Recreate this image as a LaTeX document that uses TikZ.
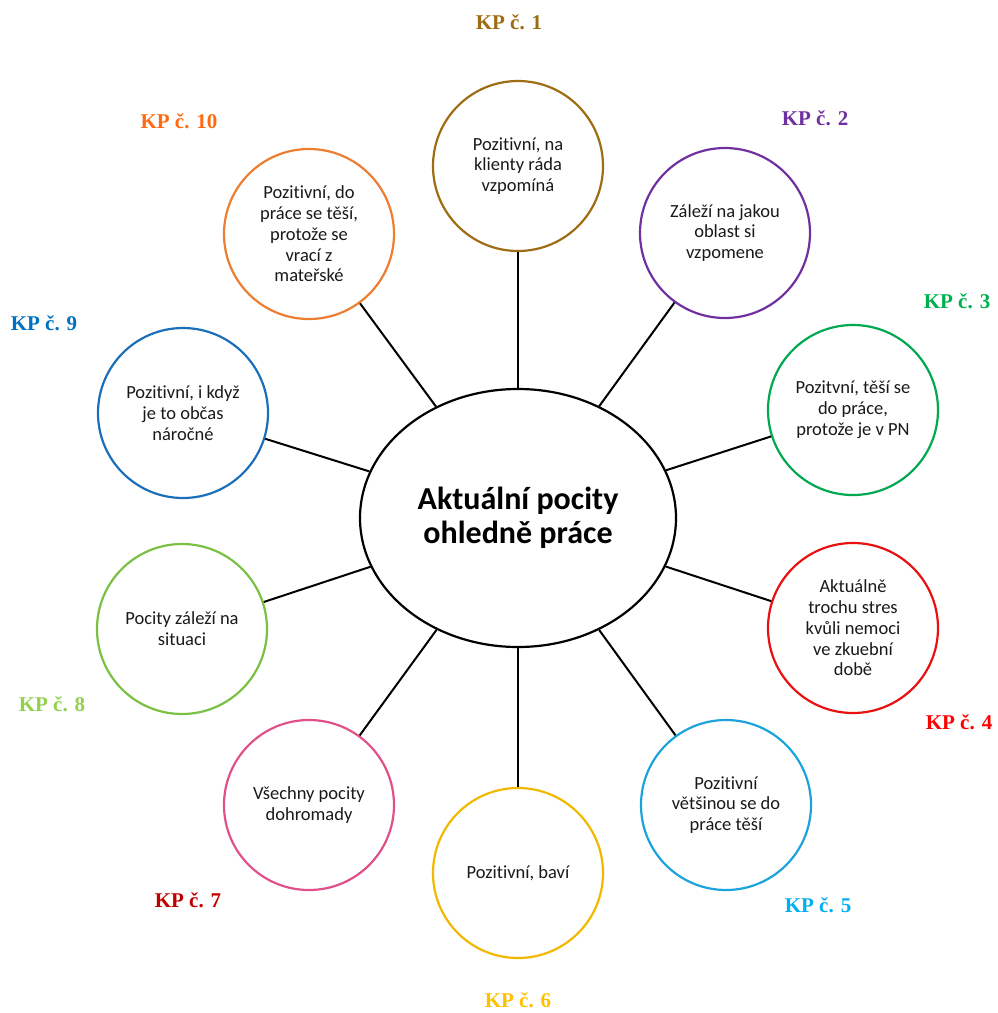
\documentclass[tikz,border=0pt]{standalone}
\usepackage{fontspec}
\setmainfont[Ligatures=NoCommon]{Carlito}
\newfontfamily\kpfont{Liberation Serif}
\usetikzlibrary{shapes.geometric}

% ring and label colours of the ten respondents
\definecolor{ringA}{HTML}{9E6C12}
\definecolor{ringB}{HTML}{7030A0}
\definecolor{ringC}{HTML}{00A850}
\definecolor{ringD}{HTML}{E81010}
\definecolor{ringE}{HTML}{1CA3DE}
\definecolor{ringF}{HTML}{F2B800}
\definecolor{ringG}{HTML}{E0508A}
\definecolor{ringH}{HTML}{7AC043}
\definecolor{ringI}{HTML}{1A6FB8}
\definecolor{ringJ}{HTML}{ED7D31}
\definecolor{labA}{HTML}{9E6C12}
\definecolor{labB}{HTML}{7030A0}
\definecolor{labC}{HTML}{00B050}
\definecolor{labD}{HTML}{FF0000}
\definecolor{labE}{HTML}{00B0F0}
\definecolor{labF}{HTML}{FFC000}
\definecolor{labG}{HTML}{C00000}
\definecolor{labH}{HTML}{92D050}
\definecolor{labI}{HTML}{0070C0}
\definecolor{labJ}{HTML}{FF6A10}

\begin{document}
\begin{tikzpicture}[x=1pt,y=-1pt,
  hubnode/.style={ellipse, draw=black, line width=2.2pt, minimum width=316pt,
    minimum height=258pt, inner sep=0pt, align=center,
    font=\bfseries\fontsize{32}{34}\selectfont},
  idea/.style={circle, draw=#1, line width=2.2pt, minimum size=170pt,
    inner sep=0pt, align=center, text=black!90,
    font=\fontsize{18.5}{20.8}\selectfont},
  kp/.style={text=#1, inner sep=0pt, font=\kpfont\bfseries\fontsize{21}{24}\selectfont},
  link/.style={draw=black, line width=2pt}]
\useasboundingbox (0,0) rectangle (997,1013);

% central topic
\node[hubnode] (hub) at (518,518) {Aktuální pocity\\ohledně práce};

% answers of the respondents
\node[idea=ringA] (c1)  at (518,166) {Pozitivní, na\\klienty ráda\\vzpomíná};
\node[idea=ringB] (c2)  at (725,233) {Záleží na jakou\\oblast si\\vzpomene};
\node[idea=ringC] (c3)  at (853,410) {Pozitvní, těší se\\do práce,\\protože je v PN};
\node[idea=ringD] (c4)  at (853,628) {Aktuálně\\trochu stres\\kvůli nemoci\\ve zkuební\\době};
\node[idea=ringE] (c5)  at (726,805) {Pozitivní\\většinou se do\\práce těší};
\node[idea=ringF] (c6)  at (518,873) {Pozitivní, baví};
\node[idea=ringG] (c7)  at (309,805) {Všechny pocity\\dohromady};
\node[idea=ringH] (c8)  at (182,629) {Pocity záleží na\\situaci};
\node[idea=ringI] (c9)  at (183,413) {Pozitivní, i když\\je to občas\\náročné};
\node[idea=ringJ] (c10) at (309,234) {Pozitivní, do\\práce se těší,\\protože se\\vrací z\\mateřské};

% spokes
\foreach \c in {c1,c2,c3,c4,c5,c6,c7,c8,c9,c10}
  \draw[link] (hub) -- (\c);

% respondent labels
\node[kp=labA] (k1)  at (509,22)  {KP č. 1};
\node[kp=labB] (k2)  at (815,118) {KP č. 2};
\node[kp=labC] (k3)  at (957,301) {KP č. 3};
\node[kp=labD] (k4)  at (959,722) {KP č. 4};
\node[kp=labE] (k5)  at (818,905) {KP č. 5};
\node[kp=labF] (k6)  at (518,1000) {KP č. 6};
\node[kp=labG] (k7)  at (188,900) {KP č. 7};
\node[kp=labH] (k8)  at (52,704)  {KP č. 8};
\node[kp=labI] (k9)  at (44,323)  {KP č. 9};
\node[kp=labJ] (k10) at (179,121) {KP č. 10};
\end{tikzpicture}
\end{document}
